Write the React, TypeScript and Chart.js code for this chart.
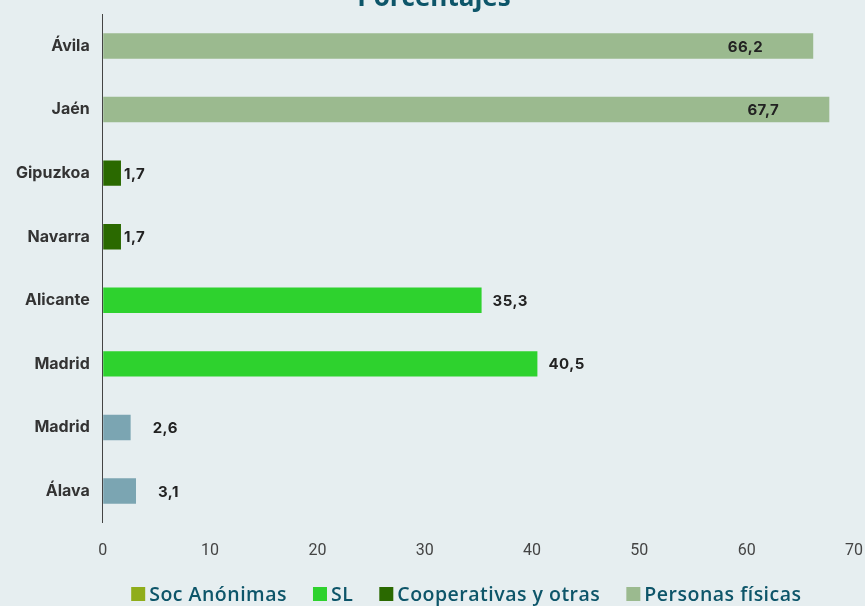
import React, { useEffect, useRef } from "react";
import { Chart, registerables } from "chart.js";

Chart.register(...registerables);

const categories = ["Ávila", "Jaén", "Gipuzkoa", "Navarra", "Alicante", "Madrid", "Madrid", "Álava"];
const socAnonimas: (number | null)[] = [null, null, null, null, null, null, null, null];
const sl: (number | null)[] = [null, null, null, null, 35.3, 40.5, null, null];
const cooperativas: (number | null)[] = [null, null, 1.7, 1.7, null, null, null, null];
const personasFisicas: (number | null)[] = [66.2, 67.7, null, null, null, null, null, null];
const otros: (number | null)[] = [null, null, null, null, null, null, 2.6, 3.1];
const xTicks = [0, 10, 20, 30, 40, 50, 60, 70];

const TEAL = "#0d5569";
const BG = "#e6eef0";

const labelPlugin = {
  id: "valueLabels",
  afterDatasetsDraw(chart: any) {
    const ctx = chart.ctx;
    ctx.save();
    ctx.letterSpacing = "0.5px";
    ctx.font = "bold 15px Inter, 'DejaVu Sans', sans-serif";
    ctx.fillStyle = "#222";
    ctx.textBaseline = "middle";
    chart.data.datasets.forEach((ds: any, di: number) => {
      const meta = chart.getDatasetMeta(di);
      const off = ds.labelOffset ?? 4;
      meta.data.forEach((bar: any, i: number) => {
        const v = ds.data[i];
        if (v == null) return;
        const txt = v.toFixed(1).replace(".", ",");
        ctx.textAlign = off < 0 ? "right" : "left";
        ctx.fillText(txt, bar.x + off, bar.y + 1);
      });
    });
    ctx.restore();
  },
};

const legendPlugin = {
  id: "customLegend",
  afterDraw(chart: any) {
    const ctx = chart.ctx;
    ctx.save();
    ctx.letterSpacing = "0.5px";
    ctx.font = "600 19.5px 'Open Sans', sans-serif";
    ctx.textBaseline = "middle";
    ctx.textAlign = "left";
    const items = chart.data.datasets.filter((d: any) => !d.hideInLegend);
    const box = 14, gap = 4, itemGap = 26;
    const widths = items.map((d: any) => box + gap + ctx.measureText(d.label).width);
    const total = widths.reduce((a: number, b: number) => a + b, 0) + itemGap * (items.length - 1);
    const ca = chart.chartArea;
    let x = (ca.left + ca.right) / 2 - total / 2 - 12;
    const y = chart.height - 12;
    items.forEach((d: any, i: number) => {
      ctx.fillStyle = d.backgroundColor;
      ctx.fillRect(x, y - box / 2, box, box);
      ctx.fillStyle = TEAL;
      ctx.fillText(d.label, x + box + gap, y + 1);
      x += widths[i] + itemGap;
    });
    ctx.restore();
  },
};

const bgPlugin = {
  id: "bg",
  beforeInit(chart: any) {
    chart.ctx.letterSpacing = "1.2px";
  },
  beforeDraw(chart: any) {
    const ctx = chart.ctx;
    ctx.save();
    ctx.fillStyle = BG;
    ctx.fillRect(0, 0, chart.width, chart.height);
    ctx.restore();
  },
};

export default function App() {
  const ref = useRef<HTMLCanvasElement>(null);
  useEffect(() => {
    if (!ref.current) return;
    const common = { barPercentage: 0.4, categoryPercentage: 1, borderWidth: 0 };
    const chart = new Chart(ref.current, {
      type: "bar",
      data: {
        labels: categories,
        datasets: [
          { label: "Soc Anónimas", data: socAnonimas, backgroundColor: "#8fad1a", ...common },
          { label: "SL", data: sl, backgroundColor: "#2ed22e", labelOffset: 11, ...common },
          { label: "Cooperativas y otras", data: cooperativas, backgroundColor: "#2a6900", labelOffset: 3, ...common },
          { label: "Personas físicas", data: personasFisicas, backgroundColor: "#9bba8f", labelOffset: -50, ...common },
          { label: "Otros", data: otros, backgroundColor: "#7ba5b2", labelOffset: 22, hideInLegend: true, ...common },
        ] as any,
      },
      options: {
        indexAxis: "y",
        animation: false,
        responsive: false,
        maintainAspectRatio: false,
        skipNull: true,
        layout: { padding: { left: 3, right: 0, top: 0, bottom: 43 } },
        plugins: {
          title: {
            display: true,
            text: "Porcentajes",
            color: TEAL,
            font: { size: 26, weight: "bold", family: "'Open Sans', sans-serif" },
            padding: { top: 7, bottom: 0 },
          },
          legend: { display: false },
          tooltip: { enabled: false },
        },
        scales: {
          x: {
            min: 0,
            max: 70,
            afterBuildTicks: (axis: any) => {
              axis.ticks = xTicks.map((v) => ({ value: v }));
            },
            grid: { display: true, drawOnChartArea: false, drawTicks: true, tickLength: 17, color: "transparent", tickColor: "transparent" },
            border: { display: false },
            ticks: { color: "#444", padding: 2, font: { size: 16, family: "Roboto, sans-serif" } },
          },
          y: {
            grid: { display: false, drawTicks: false },
            border: { display: true, color: "#444", width: 1 },
            ticks: { color: "#333", padding: 13, font: { size: 16, weight: "bold", family: "Inter, sans-serif" } },
          },
        },
      } as any,
      plugins: [bgPlugin, labelPlugin, legendPlugin],
    });
    return () => chart.destroy();
  }, []);
  return (
    <div style={{ position: "fixed", left: 0, top: -24, width: 865, height: 630, background: BG }}>
      <canvas ref={ref} width={865} height={630} style={{ display: "block" }} />
    </div>
  );
}
